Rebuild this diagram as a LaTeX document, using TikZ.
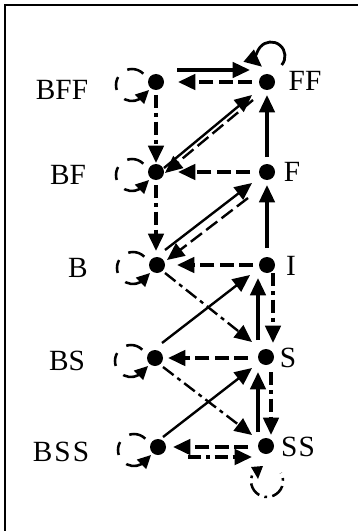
\documentclass[tikz,border=0pt]{standalone}
\usepackage{fontspec}
\setmainfont{Liberation Serif}
\usetikzlibrary{arrows.meta}
\begin{document}
\begin{tikzpicture}[x=0.75pt,y=-0.75pt,
  dot/.style={circle,fill=black,inner sep=0pt,minimum size=12pt},
  lbl/.style={inner sep=0pt,font=\fontsize{22}{24}\selectfont},
  arrtip/.style={-{Triangle[length=13pt,width=11.5pt]}},
  solidarr/.style={arrtip,line width=2.6pt},
  dasharr/.style={arrtip,line width=2.8pt,dash pattern=on 10.5pt off 4pt},
  ddarr/.style={arrtip,line width=2.8pt,dash pattern=on 10pt off 3.5pt on 3pt off 3.5pt},
  diag/.style={line width=1.8pt},
  looptip/.style={-{Triangle[length=10pt,width=9.5pt]}},
  lloop/.style={looptip,line width=1.9pt,dash pattern=on 13pt off 9pt on 10pt off 9pt},
]
\useasboundingbox (0,0) rectangle (357,531);
% frame
\draw[line width=1.9pt] (5,540) -- (5,5) -- (365,5);

% dots
\node[dot] (BFF) at (156,82) {};
\node[dot] (FF)  at (267,82) {};
\node[dot] (BF)  at (156,172) {};
\node[dot] (F)   at (267,172) {};
\node[dot] (B)   at (157,265) {};
\node[dot] (I)   at (267,265) {};
\node[dot] (BS)  at (155,358) {};
\node[dot] (S)   at (266,357) {};
\node[dot] (BSS) at (158,447) {};
\node[dot] (SS)  at (266,446) {};

% labels
\node[lbl] (lBFF) at (62,90)  {BFF};
\node[lbl] (lFF)  at (305,81) {FF};
\node[lbl] (lBF)  at (68,175) {BF};
\node[lbl] (lF)   at (292,172) {F};
\node[lbl] (lB)   at (78,268) {B};
\node[lbl] (lI)   at (291,266) {I};
\node[lbl] (lBS)  at (67,361) {BS};
\node[lbl] (lS)   at (288,358) {S};
\node[lbl] (lBSS) at (61,452) {B\kern1.5pt S\kern1.5pt S};
\node[lbl] (lSS)  at (298,447) {S\kern1pt S};

% row 1
\draw[solidarr] ([shift={(21,-12)}]BFF.center) -- ([shift={(-17,-12)}]FF.center);
\draw[dasharr] ([shift={(-15,0)}]FF.center) -- ([shift={(22,0)}]BFF.center);
\draw[solidarr,line width=2.1pt] ([shift={(14.7,-17)}]FF.center) arc[start angle=40,end angle=-230,radius=14];
\draw[ddarr] ([shift={(0,13)}]BFF.center) -- ([shift={(0,-9)}]BF.center);
\draw[solidarr,diag] ([shift={(8,-4)}]BF.center) -- ([shift={(-15,13)}]FF.center);
\draw[dasharr,diag] ([shift={(-14,18)}]FF.center) -- ([shift={(9,1)}]BF.center);

% row 2
\draw[solidarr] ([shift={(0,-15)}]F.center) -- ([shift={(0,13)}]FF.center);
\draw[dasharr] ([shift={(-17,0)}]F.center) -- ([shift={(22,0)}]BF.center);
\draw[ddarr] ([shift={(0,13)}]BF.center) -- ([shift={(-1,-14)}]B.center);
\draw[solidarr,diag] ([shift={(8,-15)}]B.center) -- ([shift={(-15,11)}]F.center);
\draw[dasharr,diag] ([shift={(-19,26)}]F.center) -- ([shift={(10,-5)}]B.center);

% row 3
\draw[solidarr] ([shift={(0,-17)}]I.center) -- ([shift={(0,13)}]F.center);
\draw[dasharr] ([shift={(-14,0)}]I.center) -- ([shift={(20,0)}]B.center);
\draw[ddarr,diag] ([shift={(8,8)}]B.center) -- ([shift={(-14,-15)}]S.center);
\draw[solidarr,diag] ([shift={(7,-15)}]BS.center) -- ([shift={(-17,10)}]I.center);
\draw[solidarr] ([shift={(-8,-17)}]S.center) -- ([shift={(-9,13)}]I.center);
\draw[ddarr] ([shift={(6,8)}]I.center) -- ([shift={(7,-14)}]S.center);

% row 4
\draw[dasharr] ([shift={(-18,1)}]S.center) -- ([shift={(13,0)}]BS.center);
\draw[ddarr,diag] ([shift={(8,9)}]BS.center) -- ([shift={(-14,-11)}]SS.center);
\draw[solidarr,diag] ([shift={(5,-10)}]BSS.center) -- ([shift={(-14,11)}]S.center);
\draw[solidarr] ([shift={(-8,-14)}]SS.center) -- ([shift={(-8,15)}]S.center);
\draw[ddarr] ([shift={(5,15)}]S.center) -- ([shift={(5,-11)}]SS.center);

% row 5
\draw[dasharr] ([shift={(-18,1)}]SS.center) -- ([shift={(15,0)}]BSS.center);
\draw[ddarr] ([shift={(30,10)}]BSS.center) -- ([shift={(-14,11)}]SS.center);

% left self-loops
\foreach \n in {BFF,BF,B,BS,BSS}{
  \draw[lloop] ([shift={(-12.7,-8.3)}]\n.center) arc[start angle=-45,end angle=-300,radius=16] -- ([shift={(-7,8)}]\n.center);
}
% SS self-loop
\draw[line width=1.9pt,dash pattern=on 2pt off 4pt on 11pt off 4pt] ([shift={(-14,29.5)}]SS.center) arc[start angle=200,end angle=-30,radius=16];
\fill ([shift={(-15,21)}]SS.center) -- ([shift={(-3,20)}]SS.center) -- ([shift={(-8,33)}]SS.center) -- cycle;
\end{tikzpicture}
\end{document}
